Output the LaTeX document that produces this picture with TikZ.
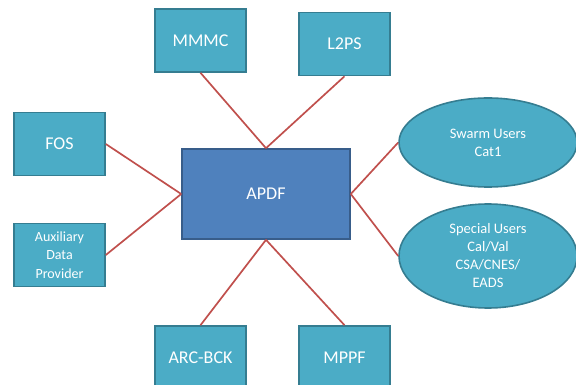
\documentclass[tikz,border=0pt]{standalone}
\usepackage{fontspec}
\setmainfont{Carlito}
\usetikzlibrary{shapes.geometric}
\definecolor{boxteal}{HTML}{4BACC6}
\definecolor{boxedge}{HTML}{357D91}
\definecolor{apdfblue}{HTML}{4F81BD}
\definecolor{apdfedge}{HTML}{385D8A}
\definecolor{linkred}{HTML}{C0504D}
\tikzset{
  unit/.style={draw=boxedge, fill=boxteal, line width=1.6pt, text=white,
    minimum width=91pt, minimum height=63pt, inner sep=0pt, align=center,
    font=\fontsize{18}{21}\selectfont},
  users/.style={ellipse, draw=boxedge, fill=boxteal, line width=1.6pt, text=white,
    inner sep=0pt, align=center, font=\fontsize{14.5}{18}\selectfont},
  link/.style={draw=linkred, line width=1.7pt}
}
\begin{document}
\begin{tikzpicture}
[x=1pt, y=-1pt]
\useasboundingbox (0,0) rectangle (576,385);
\node (apdf) at (266,194) [unit, draw=apdfedge, fill=apdfblue,
  minimum width=168pt, minimum height=90pt] {APDF}; %% centre
\node (mmmc) at (200.5,40.5)  [unit] {MMMC};
\node (l2ps) at (344.5,44)    [unit] {L2PS};
\node (fos)  at (59.5,144)    [unit] {FOS};
\node (aux)  at (59.5,255)    [unit, font=\fontsize{14}{18.3}\selectfont]
  {Auxiliary\\Data\\Provider};
\node (arc)  at (200.5,357.5) [unit] {ARC-BCK};
\node (mppf) at (344.5,357.5) [unit] {MPPF};
\node (swarm) at (488,142.5) [users, minimum width=178pt, minimum height=89pt]
  {Swarm Users\\Cat1};
\node (special) at (488,256) [users, minimum width=178pt, minimum height=104pt]
  {Special Users\\Cal/Val\\CSA/CNES/\\EADS};
%% links
\draw[link] (mmmc.south) -- (apdf.north);
\draw[link] (l2ps.south) -- (apdf.north);
\draw[link] (fos.east) -- (apdf.west);
\draw[link] (aux.east) -- (apdf.west);
\draw[link] (arc.north) -- (apdf.south);
\draw[link] (mppf.north) -- (apdf.south);
\draw[link] (swarm.west) -- (apdf.east);
\draw[link] (special.west) -- (apdf.east);
\end{tikzpicture}
\end{document}
